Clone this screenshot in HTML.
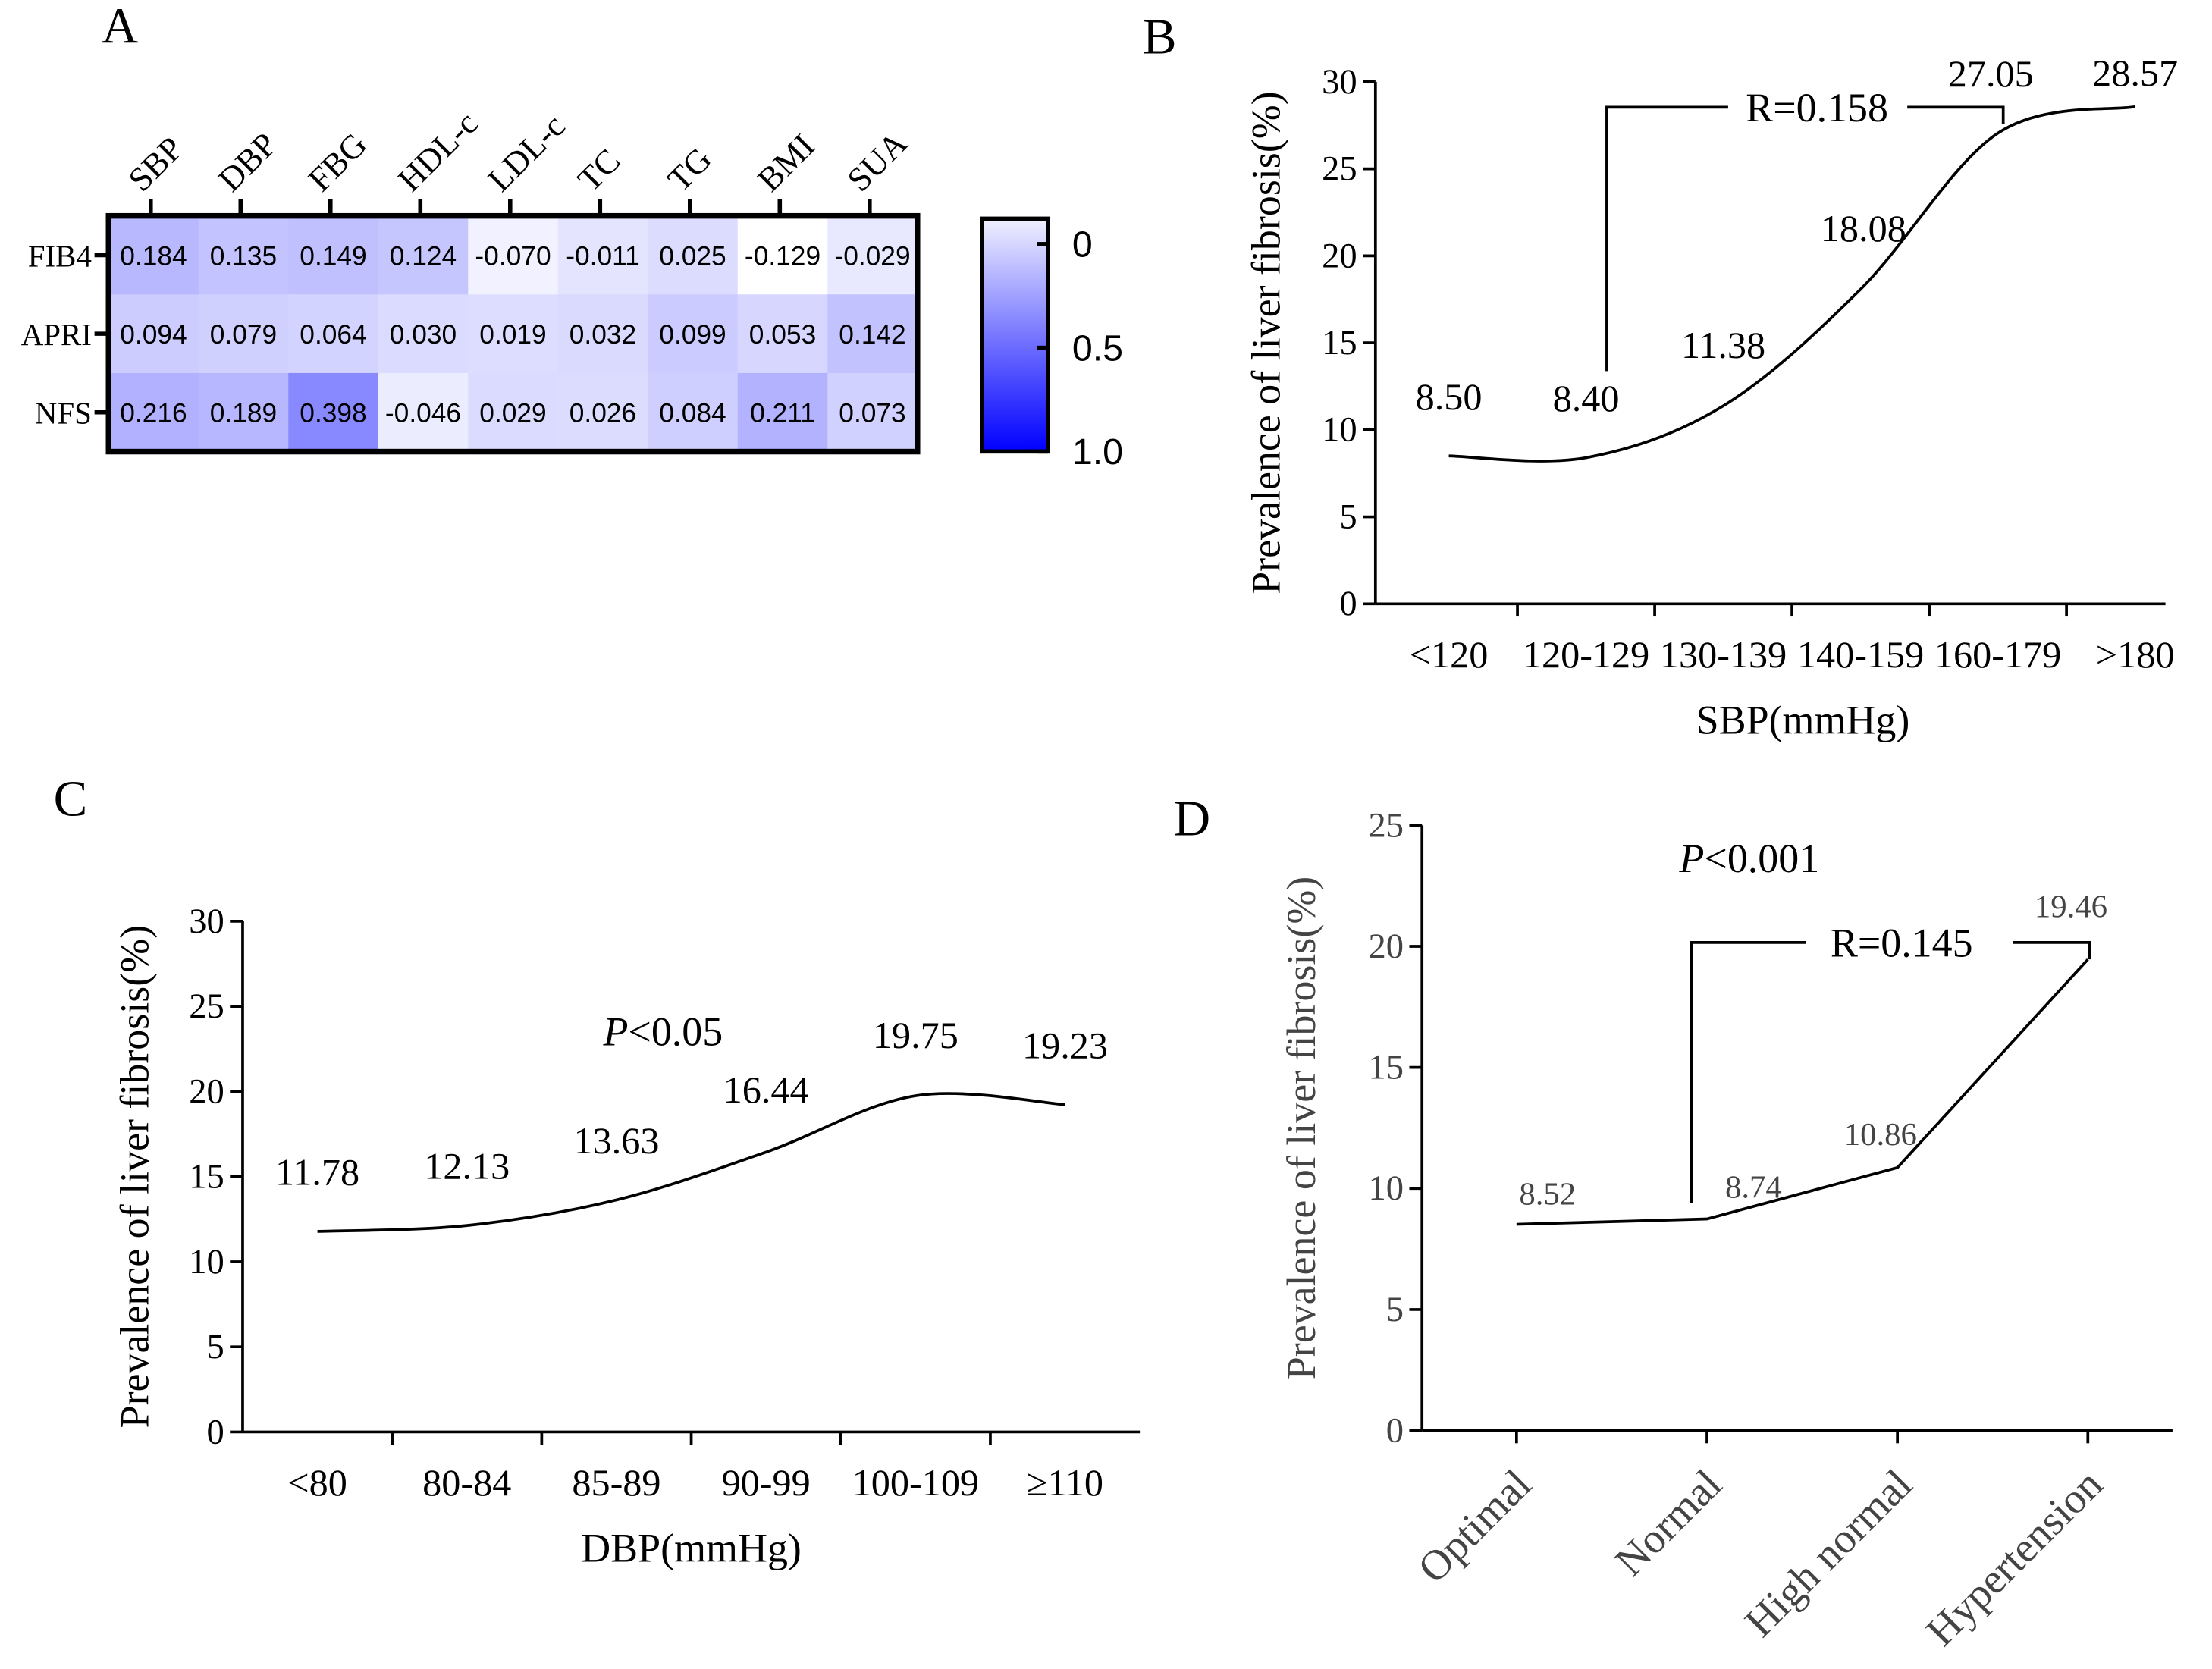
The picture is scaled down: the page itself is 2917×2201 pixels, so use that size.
<!DOCTYPE html>
<html><head><meta charset="utf-8">
<style>
html,body{margin:0;padding:0;background:#fff;}
svg{display:block;}
text{font-family:"Liberation Serif",serif;}
.sans{font-family:"Liberation Sans",sans-serif;}
</style></head>
<body>
<svg id="fig" width="2917" height="2201" viewBox="0 0 1568 1183" preserveAspectRatio="none" xmlns="http://www.w3.org/2000/svg">
<rect width="1568" height="1183" fill="#fff"/>
<text x="72" y="30" font-size="36">A</text>
<text x="810" y="38" font-size="36">B</text>
<text x="38" y="578" font-size="36">C</text>
<text x="832" y="592" font-size="36">D</text>
<g id="gA"></g>
<g id="gB"></g>
<g id="gC"></g>
<g id="gD"></g>
</svg>
<script>
const heatCols=["SBP","DBP","FBG","HDL-c","LDL-c","TC","TG","BMI","SUA"];
const heatRows=["FIB4","APRI","NFS"];
const heatFIB4=[0.184,0.135,0.149,0.124,-0.070,-0.011,0.025,-0.129,-0.029];
const heatAPRI=[0.094,0.079,0.064,0.030,0.019,0.032,0.099,0.053,0.142];
const heatNFS=[0.216,0.189,0.398,-0.046,0.029,0.026,0.084,0.211,0.073];
const heatLabels=[["0.184","0.135","0.149","0.124","-0.070","-0.011","0.025","-0.129","-0.029"],["0.094","0.079","0.064","0.030","0.019","0.032","0.099","0.053","0.142"],["0.216","0.189","0.398","-0.046","0.029","0.026","0.084","0.211","0.073"]];
const colorbarTicks=["0","0.5","1.0"];

const sbpCats=["<120","120-129","130-139","140-159","160-179",">180"];
const sbpVals=[8.50,8.40,11.38,18.08,27.05,28.57];
const sbpLabels=["8.50","8.40","11.38","18.08","27.05","28.57"];
const sbpTicks=[0,5,10,15,20,25,30];

const dbpCats=["<80","80-84","85-89","90-99","100-109","≥110"];
const dbpVals=[11.78,12.13,13.63,16.44,19.75,19.23];
const dbpLabels=["11.78","12.13","13.63","16.44","19.75","19.23"];
const dbpTicks=[0,5,10,15,20,25,30];

const bpCats=["Optimal","Normal","High normal","Hypertension"];
const bpVals=[8.52,8.74,10.86,19.46];
const bpLabels=["8.52","8.74","10.86","19.46"];
const bpTicks=[0,5,10,15,20,25];

const NS="http://www.w3.org/2000/svg";
function mk(parent,tag,attrs,txt){const e=document.createElementNS(NS,tag);for(const k in attrs)e.setAttribute(k,attrs[k]);if(txt!==undefined)e.textContent=txt;parent.appendChild(e);return e;}
function smooth(pts){let d="M"+pts[0][0]+","+pts[0][1];for(let i=0;i<pts.length-1;i++){const p0=pts[Math.max(0,i-1)],p1=pts[i],p2=pts[i+1],p3=pts[Math.min(pts.length-1,i+2)];const c1x=p1[0]+(p2[0]-p0[0])/6,c1y=p1[1]+(p2[1]-p0[1])/6,c2x=p2[0]-(p3[0]-p1[0])/6,c2y=p2[1]-(p3[1]-p1[1])/6;d+=" C"+c1x+","+c1y+" "+c2x+","+c2y+" "+p2[0]+","+p2[1];}return d;}

// ---- Heatmap
(function(){
const g=document.getElementById('gA');
const x0=77,y0=153,cw=63.7,rh=55.7;
const vals=[heatFIB4,heatAPRI,heatNFS];
const col=v=>{let t=(v+0.13)/1.13;t=Math.max(0,Math.min(1,t));const c=Math.round(255-255*t);return `rgb(${c},${c},255)`;};
vals.forEach((row,r)=>row.forEach((v,c)=>{
 const e=mk(g,'rect',{x:x0+c*cw,y:y0+r*rh,width:cw+0.5,height:rh+0.5,fill:col(v)});
 
 
 const t=mk(g,'text',{x:x0+c*cw+cw/2,y:y0+r*rh+rh/2+7,'font-size':19,'text-anchor':'middle',class:'sans'},heatLabels[r][c]);
 
 
}));
mk(g,'rect',{x:x0,y:y0,width:cw*9,height:rh*3,fill:'none',stroke:'#000','stroke-width':4});
heatCols.forEach((n,c)=>{const x=x0+c*cw+cw/2-2;mk(g,'line',{x1:x,y1:y0,x2:x,y2:y0-12,stroke:'#000','stroke-width':3});
 const t=mk(g,'text',{x:x-6,y:y0-16,'font-size':24,transform:`rotate(-45 ${x-6} ${y0-16})`},n);
 
 });
heatRows.forEach((n,r)=>{const y=y0+r*rh+rh/2;mk(g,'line',{x1:x0,y1:y,x2:x0-10,y2:y,stroke:'#000','stroke-width':3});
 const t=mk(g,'text',{x:x0-12,y:y+8,'font-size':22,'text-anchor':'end'},n);
 
 });
const defs=mk(g,'defs',{});const lg=mk(defs,'linearGradient',{id:'cb',x1:0,y1:0,x2:0,y2:1});
mk(lg,'stop',{offset:'0','stop-color':'#f0f0ff'});mk(lg,'stop',{offset:'1','stop-color':'#0000ff'});
const cb=mk(g,'rect',{x:696,y:155,width:47,height:165,fill:'url(#cb)',stroke:'#000','stroke-width':3});


colorbarTicks.forEach((t,i)=>{const y=173+i*73.5;mk(g,'line',{x1:735,y1:y,x2:743,y2:y,stroke:'#000','stroke-width':3});
 const e=mk(g,'text',{x:760,y:y+9,'font-size':26,class:'sans'},t);
 
 });
})();

function lineChart(g,o){
 const ys=v=>o.yb-(v-o.ymin)/(o.ymax-o.ymin)*(o.yb-o.yt);
 const xs=i=>o.xc0+i*o.step;
 mk(g,'line',{x1:o.xa,y1:o.yt,x2:o.xa,y2:o.yb,stroke:'#000','stroke-width':2});
 mk(g,'line',{x1:o.xa,y1:o.yb,x2:o.xe,y2:o.yb,stroke:'#000','stroke-width':2});
 o.ticks.forEach(t=>{const y=ys(t);mk(g,'line',{x1:o.xa-9,y1:y,x2:o.xa,y2:y,stroke:'#000','stroke-width':2});
  const e=mk(g,'text',{x:o.xa-13,y:y+8,'font-size':25,'text-anchor':'end',fill:o.tc||'#000'},String(t));
  
  });
 for(let i=0;i<o.cats.length-(o.rot?0:1);i++){const x=o.rot?xs(i):xs(i)+o.step/2;mk(g,'line',{x1:x,y1:o.yb,x2:x,y2:o.yb+9,stroke:'#000','stroke-width':2});}
 o.cats.forEach((c,i)=>{let e;
  if(o.rot){const x=xs(i)+12,y=o.yb+40;e=mk(g,'text',{x:x,y:y,'font-size':30,'text-anchor':'end',fill:o.tc||'#000',transform:`rotate(-45 ${x} ${y})`},c);}
  else e=mk(g,'text',{x:xs(i),y:o.yb+45,'font-size':27,'text-anchor':'middle'},c);
  
  });
 const pts=o.vals.map((v,i)=>[xs(i),ys(v)]);
 const p=mk(g,'path',{d:o.straight?("M"+pts.map(p=>p.join(",")).join(" L")):smooth(pts),fill:'none',stroke:'#000','stroke-width':2});
 
 
 o.vals.forEach((v,i)=>{const e=mk(g,'text',{x:xs(i)+(o.lx?o.lx[i]:0),y:ys(v)+(o.ly[i]),'font-size':o.lfs||27,'text-anchor':'middle',fill:o.tc||'#000'},o.labels[i]);
  
  });
 const yl=mk(g,'text',{x:0,y:0,'font-size':29,'text-anchor':'middle',fill:o.tc||'#000',transform:`translate(${o.ylx},${(o.yt+o.yb)/2}) rotate(-90)`},'Prevalence of liver fibrosis(%)');
 
 
 if(o.xt){const e=mk(g,'text',{x:o.xtx,y:o.yb+92,'font-size':29,'text-anchor':'middle'},o.xt);
  
  }
}

lineChart(document.getElementById('gB'),{xa:975,xe:1535,yt:58,yb:428,ymin:0,ymax:30,ticks:sbpTicks,cats:sbpCats,vals:sbpVals,labels:sbpLabels,xc0:1027,step:97.3,ly:[-33,-33,-34,-34,-33,-15],lx:[0,0,0,2,-5,0],ylx:907,xt:'SBP(mmHg)',xtx:1278});
(function(){const g=document.getElementById('gB');
mk(g,'polyline',{points:'1139,263 1139,76 1225,76',fill:'none',stroke:'#000','stroke-width':2});
mk(g,'polyline',{points:'1352,76 1420,76 1420,88',fill:'none',stroke:'#000','stroke-width':2});
const t=mk(g,'text',{x:1288,y:86,'font-size':29,'text-anchor':'middle'},'R=0.158');

})();

lineChart(document.getElementById('gC'),{xa:172,xe:808,yt:653,yb:1015,ymin:0,ymax:30,ticks:dbpTicks,cats:dbpCats,vals:dbpVals,labels:dbpLabels,xc0:225,step:106,ly:[-33,-33,-33,-35,-34,-33],ylx:105,xt:'DBP(mmHg)',xtx:490});
(function(){const g=document.getElementById('gC');
const t=mk(g,'text',{x:470,y:741,'font-size':29,'text-anchor':'middle'});


mk(t,'tspan',{'font-style':'italic'},'P');mk(t,'tspan',{},'<0.05');})();

lineChart(document.getElementById('gD'),{xa:1008,xe:1540,yt:585,yb:1014,ymin:0,ymax:25,ticks:bpTicks,cats:bpCats,vals:bpVals,labels:bpLabels,xc0:1075,step:135,ly:[-14,-15,-16,-30],lx:[22,33,-12,-12],lfs:23,tc:'#444',rot:true,straight:true,ylx:932});
(function(){const g=document.getElementById('gD');
mk(g,'polyline',{points:'1199,853 1199,668 1280,668',fill:'none',stroke:'#000','stroke-width':2});
mk(g,'polyline',{points:'1427,668 1481,668 1481,680',fill:'none',stroke:'#000','stroke-width':2});
const r=mk(g,'text',{x:1348,y:678,'font-size':29,'text-anchor':'middle'},'R=0.145');


const t=mk(g,'text',{x:1240,y:618,'font-size':29,'text-anchor':'middle'});


mk(t,'tspan',{'font-style':'italic'},'P');mk(t,'tspan',{},'<0.001');})();
</script>
</body></html>
